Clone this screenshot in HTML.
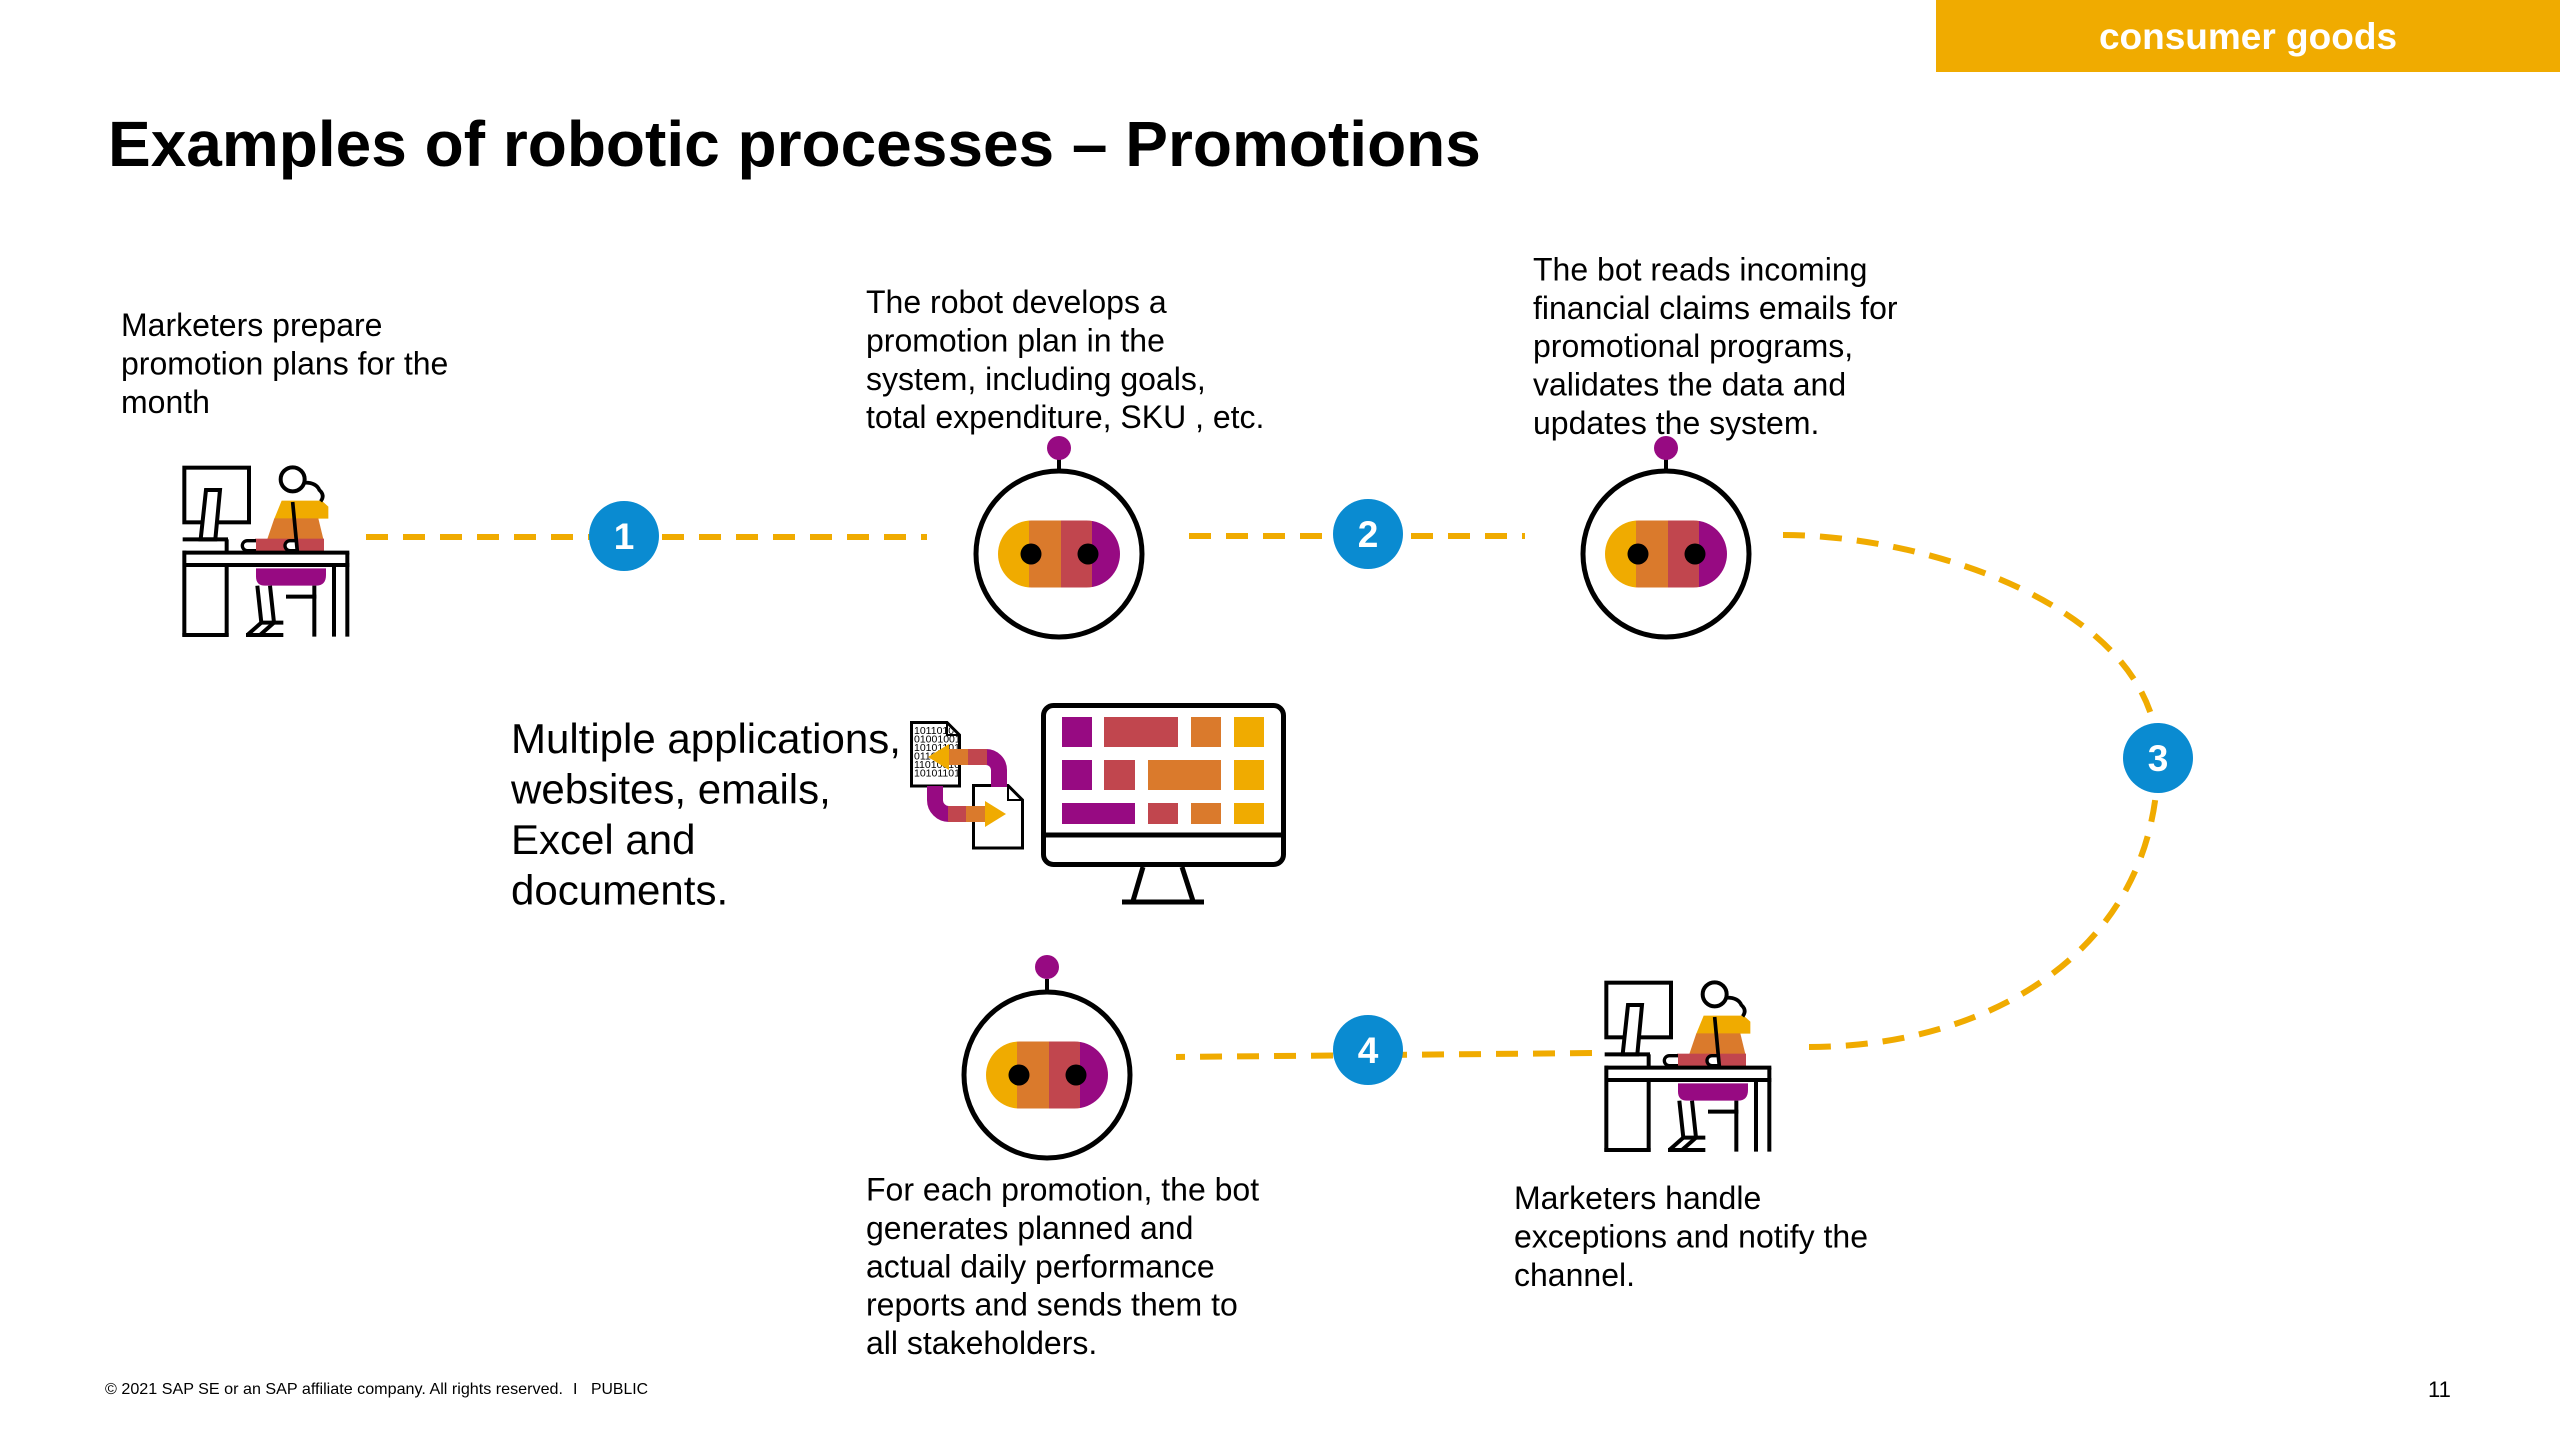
<!DOCTYPE html>
<html>
<head>
<meta charset="utf-8">
<style>
  html, body { margin: 0; padding: 0; background: #ffffff; }
  body { width: 2560px; height: 1440px; overflow: hidden; }
  svg { display: block; }
  text { font-family: "Liberation Sans", Arial, sans-serif; }
</style>
</head>
<body>
<svg width="2560" height="1440" viewBox="0 0 2560 1440" xmlns="http://www.w3.org/2000/svg">
  <defs>
    <clipPath id="pill"><rect x="-61" y="-33.5" width="122" height="67" rx="33.5" ry="33.5"/></clipPath>
    <clipPath id="doc1clip"><polygon points="913,724 946,724 958,736 958,784 913,784"/></clipPath>
  </defs>

  <!-- Header tag -->
  <rect x="1936" y="0" width="624" height="72" fill="#F0AB00"/>
  <text x="2248" y="49" font-size="37" font-weight="bold" fill="#ffffff" text-anchor="middle">consumer goods</text>

  <!-- Title -->
  <text x="108" y="166" font-size="64" font-weight="bold" fill="#000000">Examples of robotic processes – Promotions</text>

  <!-- Dashed connectors -->
  <g fill="none" stroke="#F0AB00" stroke-width="6" stroke-dasharray="22 15">
    <path d="M366,537 H927"/>
    <path d="M1189,536 H1525"/>
    <path d="M1783,535 C1930,535 2158,610 2158,758 C2158,950 1990,1047 1809,1047"/>
    <path d="M1592,1053 L1176,1057"/>
  </g>

  <!-- Number circles -->
  <g font-size="37" font-weight="bold" fill="#ffffff" text-anchor="middle">
    <circle cx="624" cy="536" r="35" fill="#0A8BD1"/>
    <text x="624" y="549">1</text>
    <circle cx="1368" cy="534" r="35" fill="#0A8BD1"/>
    <text x="1368" y="547">2</text>
    <circle cx="2158" cy="758" r="35" fill="#0A8BD1"/>
    <text x="2158" y="771">3</text>
    <circle cx="1368" cy="1050" r="35" fill="#0A8BD1"/>
    <text x="1368" y="1063">4</text>
  </g>

  <!-- Robot 1 -->
  <g transform="translate(1059,554)">
    <line x1="0" y1="-85" x2="0" y2="-96" stroke="#000" stroke-width="4"/>
    <circle cx="0" cy="-106" r="12" fill="#970A82"/>
    <circle cx="0" cy="0" r="83" fill="#fff" stroke="#000" stroke-width="5"/>
    <g clip-path="url(#pill)">
      <rect x="-61" y="-34" width="31" height="68" fill="#F0AB00"/>
      <rect x="-30" y="-34" width="32" height="68" fill="#DA7A2C"/>
      <rect x="2" y="-34" width="31" height="68" fill="#C1464E"/>
      <rect x="33" y="-34" width="29" height="68" fill="#970A82"/>
    </g>
    <circle cx="-28" cy="0" r="10.5" fill="#000"/>
    <circle cx="29" cy="0" r="10.5" fill="#000"/>
  </g>

  <!-- Robot 2 -->
  <g transform="translate(1666,554)">
    <line x1="0" y1="-85" x2="0" y2="-96" stroke="#000" stroke-width="4"/>
    <circle cx="0" cy="-106" r="12" fill="#970A82"/>
    <circle cx="0" cy="0" r="83" fill="#fff" stroke="#000" stroke-width="5"/>
    <g clip-path="url(#pill)">
      <rect x="-61" y="-34" width="31" height="68" fill="#F0AB00"/>
      <rect x="-30" y="-34" width="32" height="68" fill="#DA7A2C"/>
      <rect x="2" y="-34" width="31" height="68" fill="#C1464E"/>
      <rect x="33" y="-34" width="29" height="68" fill="#970A82"/>
    </g>
    <circle cx="-28" cy="0" r="10.5" fill="#000"/>
    <circle cx="29" cy="0" r="10.5" fill="#000"/>
  </g>

  <!-- Robot 3 -->
  <g transform="translate(1047,1075)">
    <line x1="0" y1="-85" x2="0" y2="-96" stroke="#000" stroke-width="4"/>
    <circle cx="0" cy="-108" r="12" fill="#970A82"/>
    <circle cx="0" cy="0" r="83" fill="#fff" stroke="#000" stroke-width="5"/>
    <g clip-path="url(#pill)">
      <rect x="-61" y="-34" width="31" height="68" fill="#F0AB00"/>
      <rect x="-30" y="-34" width="32" height="68" fill="#DA7A2C"/>
      <rect x="2" y="-34" width="31" height="68" fill="#C1464E"/>
      <rect x="33" y="-34" width="29" height="68" fill="#970A82"/>
    </g>
    <circle cx="-28" cy="0" r="10.5" fill="#000"/>
    <circle cx="29" cy="0" r="10.5" fill="#000"/>
  </g>

  <!-- Person icon 1 -->
  <g transform="translate(150,440) scale(0.33333)" stroke="#000" stroke-width="12" fill="none">
    <rect x="103" y="83" width="194" height="164"/>
    <polygon points="168,150 210,150 196,298 152,298" fill="#fff"/>
    <line x1="98" y1="298" x2="234" y2="298"/>
    <line x1="230" y1="298" x2="230" y2="338"/>
    <polygon points="395,182 515,182 535,200 535,236 373,236" fill="#F0AB00" stroke="none"/>
    <polygon points="373,235 505,235 520,297 352,297" fill="#DA7A2C" stroke="none"/>
    <rect x="315" y="296" width="207" height="38" fill="#C1464E" stroke="none"/>
    <path d="M318,302 H292 A15,15 0 0 0 292,332 H318" fill="#fff" stroke-width="10"/>
    <path d="M440,302 H420 A15,15 0 0 0 420,332 H440" fill="#fff" stroke-width="10"/>
    <line x1="428" y1="186" x2="442" y2="334" stroke-width="11"/>
    <circle cx="428" cy="118" r="36" fill="#fff"/>
    <path d="M460,128 Q498,126 508,150 Q526,166 512,184" stroke-width="11"/>
    <line x1="98" y1="338" x2="598" y2="338"/>
    <line x1="98" y1="375" x2="598" y2="375"/>
    <line x1="103" y1="332" x2="103" y2="590"/>
    <line x1="230" y1="375" x2="230" y2="590"/>
    <line x1="97" y1="585" x2="236" y2="585"/>
    <line x1="552" y1="375" x2="552" y2="590"/>
    <line x1="592" y1="338" x2="592" y2="590"/>
    <path d="M318,385 H528 V405 Q528,437 498,437 H345 Q318,437 318,410 Z" fill="#970A82" stroke="none"/>
    <line x1="493" y1="437" x2="493" y2="590"/>
    <line x1="408" y1="470" x2="499" y2="470"/>
    <line x1="322" y1="437" x2="334" y2="548"/>
    <line x1="360" y1="437" x2="372" y2="548"/>
    <line x1="334" y1="548" x2="400" y2="548"/>
    <line x1="334" y1="548" x2="292" y2="585"/>
    <line x1="372" y1="548" x2="330" y2="585"/>
    <line x1="288" y1="585" x2="400" y2="585"/>
  </g>

  <!-- Person icon 2 -->
  <g transform="translate(1572,955) scale(0.33333)" stroke="#000" stroke-width="12" fill="none">
    <rect x="103" y="83" width="194" height="164"/>
    <polygon points="168,150 210,150 196,298 152,298" fill="#fff"/>
    <line x1="98" y1="298" x2="234" y2="298"/>
    <line x1="230" y1="298" x2="230" y2="338"/>
    <polygon points="395,182 515,182 535,200 535,236 373,236" fill="#F0AB00" stroke="none"/>
    <polygon points="373,235 505,235 520,297 352,297" fill="#DA7A2C" stroke="none"/>
    <rect x="315" y="296" width="207" height="38" fill="#C1464E" stroke="none"/>
    <path d="M318,302 H292 A15,15 0 0 0 292,332 H318" fill="#fff" stroke-width="10"/>
    <path d="M440,302 H420 A15,15 0 0 0 420,332 H440" fill="#fff" stroke-width="10"/>
    <line x1="428" y1="186" x2="442" y2="334" stroke-width="11"/>
    <circle cx="428" cy="118" r="36" fill="#fff"/>
    <path d="M460,128 Q498,126 508,150 Q526,166 512,184" stroke-width="11"/>
    <line x1="98" y1="338" x2="598" y2="338"/>
    <line x1="98" y1="375" x2="598" y2="375"/>
    <line x1="103" y1="332" x2="103" y2="590"/>
    <line x1="230" y1="375" x2="230" y2="590"/>
    <line x1="97" y1="585" x2="236" y2="585"/>
    <line x1="552" y1="375" x2="552" y2="590"/>
    <line x1="592" y1="338" x2="592" y2="590"/>
    <path d="M318,385 H528 V405 Q528,437 498,437 H345 Q318,437 318,410 Z" fill="#970A82" stroke="none"/>
    <line x1="493" y1="437" x2="493" y2="590"/>
    <line x1="408" y1="470" x2="499" y2="470"/>
    <line x1="322" y1="437" x2="334" y2="548"/>
    <line x1="360" y1="437" x2="372" y2="548"/>
    <line x1="334" y1="548" x2="400" y2="548"/>
    <line x1="334" y1="548" x2="292" y2="585"/>
    <line x1="372" y1="548" x2="330" y2="585"/>
    <line x1="288" y1="585" x2="400" y2="585"/>
  </g>

  <!-- Documents / arrows icon -->
  <g>
    <polygon points="911.5,722.5 947,722.5 959.5,735 959.5,786 911.5,786" fill="#fff" stroke="#000" stroke-width="3"/>
    <polyline points="947,722.5 947,735 959.5,735" fill="none" stroke="#000" stroke-width="2"/>
    <g clip-path="url(#doc1clip)" font-family="'Liberation Serif', serif" font-size="10.5" fill="#000">
      <text x="914" y="734">1011010</text>
      <text x="914" y="742.5">01001001</text>
      <text x="914" y="751">10101101</text>
      <text x="914" y="759.5">01101101</text>
      <text x="914" y="768">11010010</text>
      <text x="914" y="776.5">10101101</text>
    </g>
    <polygon points="973.5,785.5 1008,785.5 1022.5,800 1022.5,848 973.5,848" fill="#fff" stroke="#000" stroke-width="3"/>
    <polyline points="1008,785.5 1008,800 1022.5,800" fill="none" stroke="#000" stroke-width="2"/>
    <path d="M999,787 V770 A13,13 0 0 0 986,757 H984" fill="none" stroke="#970A82" stroke-width="16"/>
    <rect x="968" y="749" width="19" height="16" fill="#C1464E"/>
    <rect x="948" y="749" width="20" height="16" fill="#DA7A2C"/>
    <polygon points="949,744 949,770 928,757" fill="#F0AB00"/>
    <path d="M935,786 V800 A14,14 0 0 0 949,814 H950" fill="none" stroke="#970A82" stroke-width="16"/>
    <rect x="948" y="806" width="18" height="16" fill="#C1464E"/>
    <rect x="966" y="806" width="20" height="16" fill="#DA7A2C"/>
    <polygon points="985,801 985,827 1006,814" fill="#F0AB00"/>
  </g>

  <!-- Monitor icon -->
  <g>
    <rect x="1043.5" y="705.5" width="240" height="159" rx="10" ry="10" fill="#fff" stroke="#000" stroke-width="5"/>
    <line x1="1043" y1="835" x2="1284" y2="835" stroke="#000" stroke-width="5"/>
    <line x1="1143" y1="867" x2="1133" y2="901" stroke="#000" stroke-width="5"/>
    <line x1="1182" y1="867" x2="1193" y2="901" stroke="#000" stroke-width="5"/>
    <line x1="1122" y1="902" x2="1204" y2="902" stroke="#000" stroke-width="5"/>
    <rect x="1062" y="717" width="30" height="30" fill="#970A82"/>
    <rect x="1104" y="717" width="74" height="30" fill="#C1464E"/>
    <rect x="1191" y="717" width="30" height="30" fill="#DA7A2C"/>
    <rect x="1234" y="717" width="30" height="30" fill="#F0AB00"/>
    <rect x="1062" y="760" width="30" height="30" fill="#970A82"/>
    <rect x="1104" y="760" width="31" height="30" fill="#C1464E"/>
    <rect x="1148" y="760" width="73" height="30" fill="#DA7A2C"/>
    <rect x="1234" y="760" width="30" height="30" fill="#F0AB00"/>
    <rect x="1062" y="803" width="73" height="21" fill="#970A82"/>
    <rect x="1148" y="803" width="30" height="21" fill="#C1464E"/>
    <rect x="1191" y="803" width="30" height="21" fill="#DA7A2C"/>
    <rect x="1234" y="803" width="30" height="21" fill="#F0AB00"/>
  </g>

  <!-- Text blocks -->
  <g font-size="32" fill="#000">
    <text x="121" y="336">Marketers prepare</text>
    <text x="121" y="374.5">promotion plans for the</text>
    <text x="121" y="413">month</text>

    <text x="866" y="313">The robot develops a</text>
    <text x="866" y="351.4">promotion plan in the</text>
    <text x="866" y="389.8">system, including goals,</text>
    <text x="866" y="428.2">total expenditure, SKU , etc.</text>

    <text x="1533" y="280.4">The bot reads incoming</text>
    <text x="1533" y="318.8">financial claims emails for</text>
    <text x="1533" y="357.2">promotional programs,</text>
    <text x="1533" y="395.6">validates the data and</text>
    <text x="1533" y="434">updates the system.</text>

    <text x="866" y="1200.5">For each promotion, the bot</text>
    <text x="866" y="1238.9">generates planned and</text>
    <text x="866" y="1277.3">actual daily performance</text>
    <text x="866" y="1315.7">reports and sends them to</text>
    <text x="866" y="1354.1">all stakeholders.</text>

    <text x="1514" y="1209">Marketers handle</text>
    <text x="1514" y="1247.4">exceptions and notify the</text>
    <text x="1514" y="1285.8">channel.</text>
  </g>

  <g font-size="42" fill="#000">
    <text x="511" y="753">Multiple applications,</text>
    <text x="511" y="803.5">websites, emails,</text>
    <text x="511" y="854">Excel and</text>
    <text x="511" y="904.5">documents.</text>
  </g>

  <!-- Footer -->
  <g font-size="16" fill="#000">
    <text x="105" y="1394" textLength="458" lengthAdjust="spacingAndGlyphs">© 2021 SAP SE or an SAP affiliate company. All rights reserved.</text>
    <text x="573" y="1394">I</text>
    <text x="591" y="1394" textLength="57" lengthAdjust="spacingAndGlyphs">PUBLIC</text>
  </g>
  <text x="2428" y="1397" font-size="22" fill="#000">11</text>
</svg>
</body>
</html>
